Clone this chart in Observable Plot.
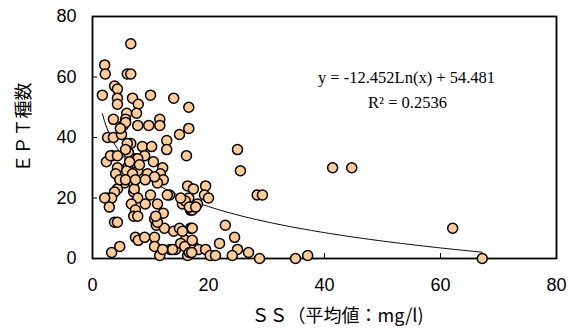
<!DOCTYPE html>
<html>
<head>
<meta charset="utf-8">
<script src="https://cdn.jsdelivr.net/npm/d3@7"></script>
<script src="https://cdn.jsdelivr.net/npm/@observablehq/plot@0.6"></script>
<style>
  body { margin: 0; background: #fff; }
</style>
</head>
<body>
<div id="chart"></div>
<script>
// Suspended solids (mean, mg/l) at each site
const ss = [
  6.6, 2.1, 2.2, 6.0, 6.6, 1.7, 3.8, 4.3, 4.3, 6.9, 10.0, 14.0, 4.3, 7.9, 16.6,
  3.6, 5.9, 7.6, 5.7, 5.3, 7.8, 9.7, 11.6, 11.6, 16.6, 15.0, 2.6, 3.6, 5.0, 25.0,
  6.6, 8.6, 10.2, 12.8, 12.8, 3.4, 6.2, 9.0, 16.2, 2.4, 7.4, 10.5, 12.1, 4.3, 6.0,
  4.0, 5.9, 7.8, 9.5, 11.7, 12.2, 25.5, 41.4, 44.7, 5.5, 4.3, 3.8, 2.6, 3.3, 7.1,
  7.2, 7.8, 10.0, 13.3, 16.4, 17.4, 16.6, 19.5, 19.3, 20.0, 28.4, 29.3, 12.9, 11.2, 2.1,
  2.9, 6.7, 9.1, 11.2, 7.4, 7.1, 7.8, 12.2, 10.7, 11.0, 12.4, 15.5, 16.9, 18.1, 17.2,
  16.0, 16.7, 3.8, 4.3, 7.4, 7.9, 9.0, 10.7, 10.7, 11.6, 13.4, 14.0, 15.0, 16.0, 16.9,
  16.6, 16.4, 14.3, 3.3, 4.7, 15.5, 17.4, 18.3, 19.5, 20.3, 21.2, 22.9, 24.5, 21.9, 25.0,
  24.1, 26.9, 28.8, 35.0, 37.1, 62.1, 67.2, 15.2, 15.9, 16.7, 13.8, 12.1, 17.2, 17.2, 17.1,
  11.2, 10.9, 15.2, 17.8, 6.0, 5.7, 3.1, 4.3, 7.8, 6.4, 8.1, 6.9, 10.7, 9.1, 4.7,
  5.7, 7.4, 5.7, 4.8
];

// Number of EPT taxa at the same sites
const ept = [
  71, 64, 61, 61, 61, 54, 57, 56, 53, 53, 54, 53, 51, 51, 50,
  46, 48, 48, 46, 44, 44, 44, 46, 44, 43, 41, 40, 40, 41, 36,
  38, 37, 37, 39, 36, 34, 35, 34, 34, 32, 33, 32, 30, 30, 30,
  28, 29, 29, 28, 28, 26, 29, 30, 30, 25, 23, 22, 20, 20, 22,
  23, 20, 21, 21, 24, 23, 20, 24, 21, 20, 21, 21, 21, 25, 20,
  17, 18, 18, 18, 16, 14, 14, 15, 13, 11, 10, 18, 16, 18, 16,
  19, 17, 12, 12, 7, 6, 7, 7, 4, 1, 3, 9, 10, 6, 10,
  4, 1, 3, 2, 4, 9, 4, 3, 3, 1, 1, 11, 7, 5, 3,
  1, 2, 0, 0, 1, 10, 0, 5, 4, 2, 3, 3, 6, 10, 2,
  12, 14, 20, 17, 38, 36, 34, 34, 33, 32, 31, 28, 27, 26, 26,
  26, 26, 45, 43
];

const xTicks = [0, 20, 40, 60, 80];
const yTicks = [0, 20, 40, 60, 80];

// Logarithmic regression reported for the data
const fitSlope = -12.452;
const fitIntercept = 54.481;
const eqLabel = "y = -12.452Ln(x) + 54.481";
const r2Label = "R² = 0.2536";

const xLabel = "ＳＳ（平均値：mg/l)";
const yLabel = "ＥＰＴ種数";

const points = ss.map((x, i) => ({x, y: ept[i]}));

// Fitted curve over the observed SS range
const [xMin, xMax] = d3.extent(ss);
const fitCurve = d3.range(0, 201).map(i => {
  const x = xMin + (xMax - xMin) * i / 200;
  return {x, y: fitSlope * Math.log(x) + fitIntercept};
});

const W = 579, H = 333;
const mL = 92, mR = 23, mT = 16, mB = 75;
const frameW = W - mL - mR, frameH = H - mT - mB;
const tickLen = 5;

const sansFont = "'Liberation Sans', Arial, sans-serif";
const cjkFont = "'Noto Sans CJK JP', sans-serif";
const serifFont = "'Liberation Serif', 'Times New Roman', serif";

const chart = Plot.plot({
  width: W,
  height: H,
  marginLeft: mL,
  marginRight: mR,
  marginTop: mT,
  marginBottom: mB,
  style: {fontFamily: sansFont, fontSize: "18px", color: "#000", background: "#fff"},
  x: {domain: [0, 80], ticks: xTicks, label: null},
  y: {domain: [0, 80], ticks: yTicks, label: null},
  marks: [
    // short tick marks pointing into the frame
    Plot.tickX(xTicks, {x: d => d, insetTop: frameH - tickLen, stroke: "#000", strokeWidth: 1}),
    Plot.tickY(yTicks, {y: d => d, insetRight: frameW - tickLen, stroke: "#000", strokeWidth: 1}),
    // tick labels
    Plot.axisX(xTicks, {tickSize: 0, tickPadding: 20, label: null, fontSize: 18}),
    Plot.axisY(yTicks, {tickSize: 0, tickPadding: 16, label: null, fontSize: 18}),
    Plot.frame({stroke: "#000", strokeWidth: 1.8}),
    Plot.line(fitCurve, {x: "x", y: "y", stroke: "#000", strokeWidth: 1}),
    Plot.dot(points, {x: "x", y: "y", r: 5, fill: "#FFCC99", stroke: "#000", strokeWidth: 1.5}),
    Plot.text([eqLabel], {frameAnchor: "top", dx: 82, dy: 55, fontFamily: serifFont, fontSize: 16.5, fill: "#000"}),
    Plot.text([r2Label], {frameAnchor: "top", dx: 83, dy: 80, fontFamily: serifFont, fontSize: 16.5, fill: "#000"}),
    // axis titles
    Plot.text([xLabel], {frameAnchor: "bottom", dx: 13, dy: 63, fontFamily: cjkFont, fontSize: 18, fill: "#000"}),
    Plot.text([yLabel], {frameAnchor: "left", textAnchor: "middle", lineAnchor: "middle", rotate: -90, dx: -68, dy: -10, fontFamily: cjkFont, fontSize: 18, fill: "#000"})
  ]
});

document.getElementById("chart").appendChild(chart);
</script>
</body>
</html>
